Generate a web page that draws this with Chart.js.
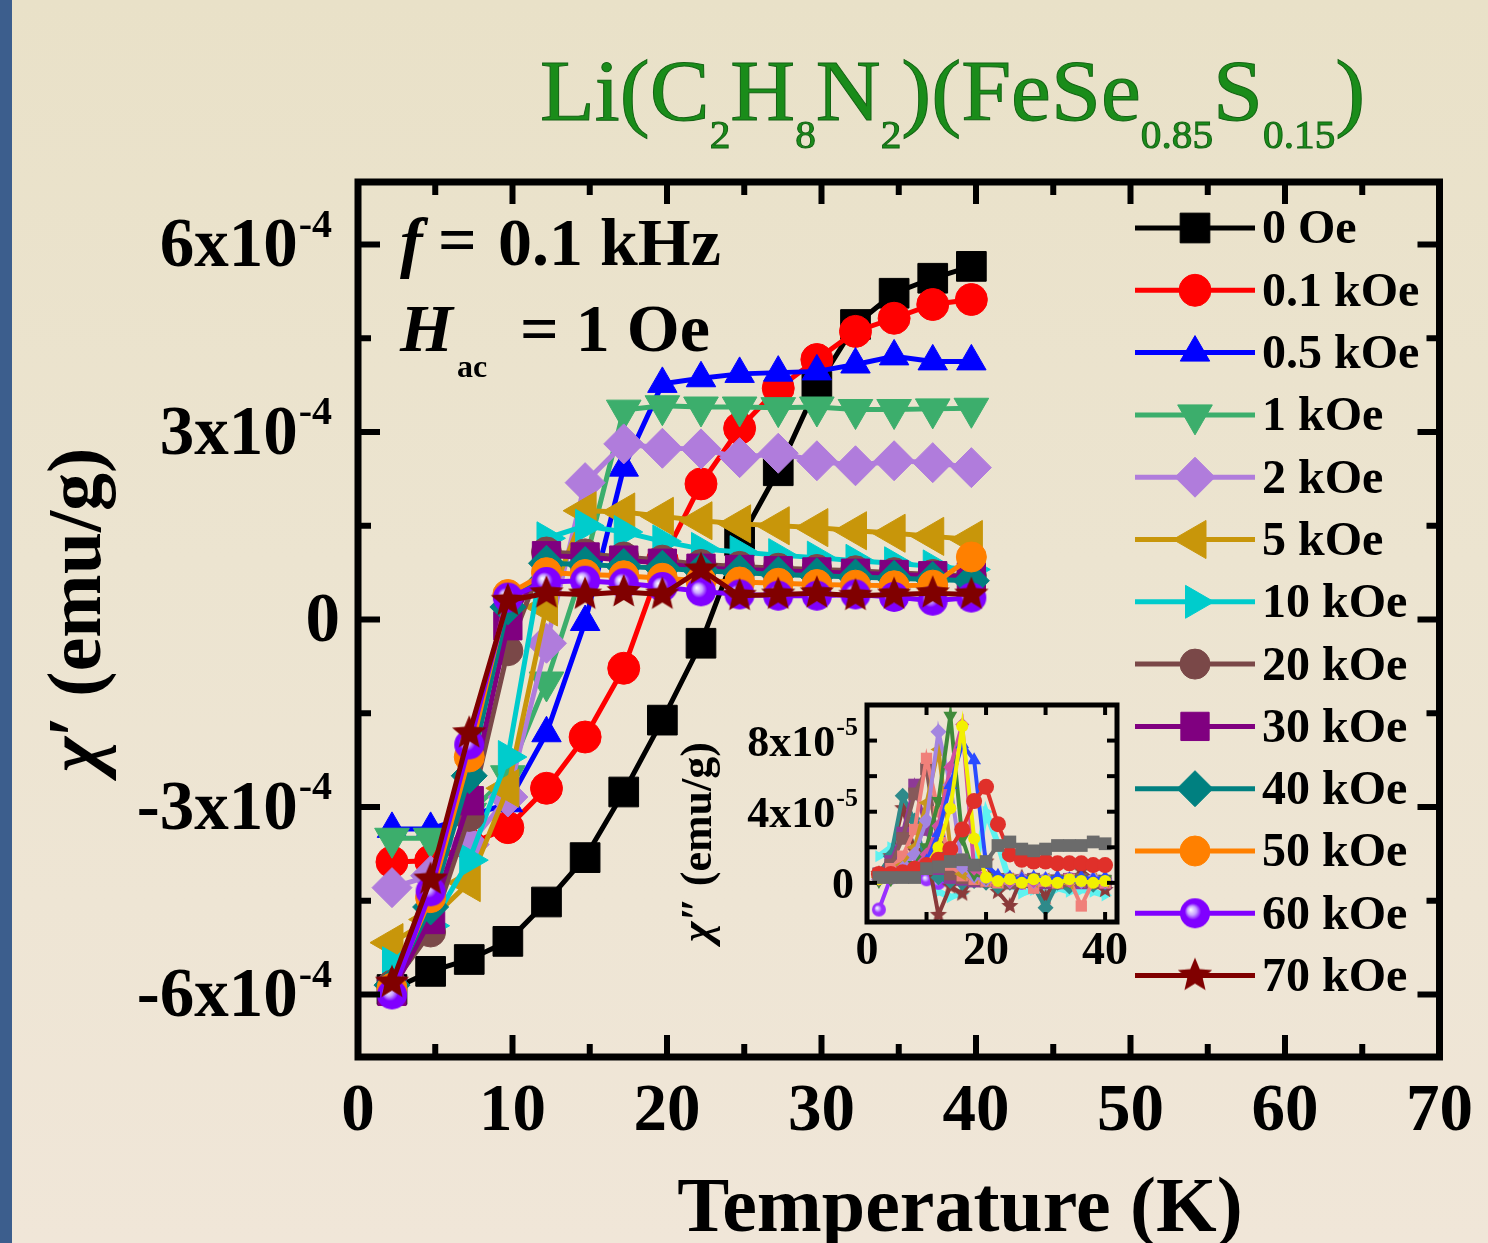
<!DOCTYPE html>
<html>
<head>
<meta charset="utf-8">
<script src="https://cdn.jsdelivr.net/npm/chart.js@4.4.1/dist/chart.umd.min.js"></script>
<style>
  html, body { margin: 0; padding: 0; }
  body {
    width: 1488px; height: 1243px; overflow: hidden; position: relative;
    background: linear-gradient(180deg, #e9e1c8 0%, #ece4d0 45%, #f0e6d8 100%);
    font-family: "Liberation Serif", "Times New Roman", serif;
  }
  #strip { position: absolute; left: 0; top: 0; width: 12px; height: 1243px; background: #3c5e8d; }
  #main { position: absolute; left: 0; top: 0; }
  #inset { position: absolute; left: 640px; top: 690px; }
  #title {
    position: absolute; left: 540px; top: 48px; color: #1a8c1a;
    -webkit-text-stroke: 1px #146414;
    font-size: 86px; line-height: 1; white-space: nowrap; transform-origin: 0 0;
  }
  #title sub { font-size: 46%; vertical-align: baseline; position: relative; top: 0.7em; }
</style>
</head>
<body>
<div id="strip"></div>
<canvas id="main" width="1488" height="1243"></canvas>
<canvas id="inset" width="500" height="300"></canvas>
<div id="title">Li(C<sub>2</sub>H<sub>8</sub>N<sub>2</sub>)(FeSe<sub>0.85</sub>S<sub>0.15</sub>)</div>

<script>
const SERIF = '"Liberation Serif", "Times New Roman", serif';

// temperature points (K) of the main chi' curves
const temps = [2.2, 4.7, 7.2, 9.7, 12.2, 14.7, 17.2, 19.7, 22.2, 24.7, 27.2, 29.7, 32.2, 34.7, 37.2, 39.7];

// chi' in units of 1e-4 emu/g, one list per dc field
const chi0Oe   = [-5.92, -5.63, -5.44, -5.15, -4.52, -3.81, -2.76, -1.61, -0.38, 1.26, 2.38, 3.73, 4.72, 5.22, 5.46, 5.65];
const chi01kOe = [-3.88, -3.86, -3.60, -3.33, -2.70, -1.88, -0.78, 0.94, 2.17, 3.06, 3.70, 4.16, 4.61, 4.82, 5.04, 5.12];
const chi05kOe = [-3.35, -3.35, -3.15, -2.94, -1.82, -0.04, 2.43, 3.77, 3.86, 3.93, 3.95, 3.97, 4.08, 4.21, 4.13, 4.13];
const chi1kOe  = [-3.50, -3.50, -3.10, -2.50, -1.00, 0.90, 3.35, 3.42, 3.40, 3.40, 3.39, 3.40, 3.36, 3.36, 3.37, 3.38];
const chi2kOe  = [-4.29, -4.10, -3.60, -2.84, -0.38, 2.19, 2.81, 2.74, 2.73, 2.59, 2.66, 2.54, 2.46, 2.54, 2.51, 2.43];
const chi5kOe  = [-5.17, -4.80, -4.21, -2.70, 0.20, 1.74, 1.72, 1.65, 1.58, 1.53, 1.50, 1.47, 1.42, 1.38, 1.33, 1.28];
const chi10kOe = [-5.50, -4.90, -3.85, -2.20, 1.30, 1.50, 1.40, 1.25, 1.13, 1.08, 1.03, 0.99, 0.94, 0.90, 0.85, 0.80];
const chi20kOe = [-5.85, -5.00, -3.15, -0.50, 1.08, 1.05, 1.00, 0.95, 0.88, 0.85, 0.82, 0.80, 0.78, 0.75, 0.72, 0.70];
const chi30kOe = [-5.95, -4.80, -2.90, -0.10, 1.02, 1.00, 0.95, 0.90, 0.82, 0.80, 0.78, 0.76, 0.74, 0.72, 0.70, 0.68];
const chi40kOe = [-5.85, -4.60, -2.50, 0.20, 0.90, 0.88, 0.85, 0.82, 0.78, 0.75, 0.72, 0.70, 0.68, 0.66, 0.64, 0.62];
const chi50kOe = [-5.90, -4.45, -2.20, 0.40, 0.75, 0.72, 0.70, 0.66, 0.62, 0.60, 0.58, 0.56, 0.55, 0.54, 0.55, 1.00];
const chi60kOe = [-6.00, -4.35, -2.00, 0.35, 0.60, 0.62, 0.58, 0.52, 0.45, 0.40, 0.38, 0.38, 0.40, 0.36, 0.30, 0.35];
const chi70kOe = [-5.81, -4.16, -1.82, 0.30, 0.42, 0.40, 0.44, 0.40, 0.80, 0.38, 0.40, 0.42, 0.38, 0.40, 0.42, 0.40];

const fieldLabels = ['0 Oe', '0.1 kOe', '0.5 kOe', '1 kOe', '2 kOe', '5 kOe', '10 kOe',
                     '20 kOe', '30 kOe', '40 kOe', '50 kOe', '60 kOe', '70 kOe'];

// axis ticks of the main panel
const xTicks = [0, 10, 20, 30, 40, 50, 60, 70];
const xMinorTicks = [5, 15, 25, 35, 45, 55, 65];
const yTicks = [-6, -3, 0, 3, 6];
const yMinorTicks = [-4.5, -1.5, 1.5, 4.5];

// inset: chi'' in units of 1e-5 emu/g
const insetTemps = [2, 4, 6, 8, 10, 12, 14, 16, 18, 20, 22, 24, 26, 28, 30, 32, 34, 36, 38, 40];
const insetCyan    = [1.5, 2.0, 2.6, 2.2, 0.5, -0.5, -0.8, -0.6, 0.6, 4.0, 2.2, 0.0, -0.6, -0.4, -0.6, -0.3, -0.5, -0.4, -0.5, -0.7];
const insetViolet  = [-1.5, 0.3, 0.8, 0.5, 0.2, 0.0, 0.2, 0.4, 0.3, 0.2, 0.1, 0.2, 0.0, 0.2, 0.1, 0.0, 0.2, 0.1, 0.0, 0.1];
const insetStar    = [0.5, 1.5, 4.2, 1.8, 1.8, -1.8, -0.2, -0.6, 0.3, 1.2, -0.5, -1.3, 0.3, 0.2, -0.8, 0.3, 0.0, 0.7, 0.2, -0.4];
const insetTeal    = [0.5, 1.5, 4.9, 3.5, 1.0, 0.3, 0.1, 0.0, 0.1, 0.0, -0.2, 0.0, 0.1, -0.2, -1.4, 0.0, -0.2, 0.1, -0.1, 0.0];
const insetPurple  = [0.5, 1.2, 2.8, 5.5, 3.0, 0.8, 0.3, 0.2, 0.1, 0.2, 0.1, 0.0, 0.1, 0.2, 0.0, 0.1, 0.2, 0.0, 0.1, 0.0];
const insetBrown   = [0.5, 1.0, 2.5, 5.0, 6.4, 2.0, 0.5, 0.3, 0.2, 0.1, 0.2, 0.0, 0.1, 0.2, 0.1, 0.0, 0.1, 0.2, 0.0, 0.1];
const insetSalmon  = [0.4, 0.8, 1.5, 3.0, 7.0, 4.0, 1.0, 0.4, 0.2, 0.1, 0.0, 0.2, 0.1, -0.3, 0.1, 0.0, 0.2, -1.3, 0.1, 0.0];
const insetGold    = [0.3, 0.5, 1.0, 2.0, 4.5, 7.5, 2.0, 0.5, 0.3, 0.2, 0.1, 0.2, 0.0, 0.1, 0.2, 0.1, 0.0, 0.1, 0.2, 0.1];
const insetLavender= [0.2, 0.4, 0.8, 1.6, 3.5, 8.5, 5.5, 0.9, 0.4, 0.2, 0.2, 0.1, 0.2, 0.1, 0.2, 0.1, 0.2, 0.1, 0.2, 0.1];
const insetGreen   = [0.1, 0.2, 0.5, 1.0, 2.0, 4.6, 9.4, 2.5, 0.5, 0.3, 0.2, 0.2, 0.1, 0.2, 0.1, 0.2, 0.1, 0.2, 0.1, 0.2];
const insetMagenta = [0.2, 0.3, 0.5, 0.9, 1.6, 3.2, 6.5, 8.9, 0.8, 0.3, 0.2, 0.1, 0.2, 0.1, 0.1, 0.2, 0.1, 0.2, 0.1, 0.1];
const insetBlue    = [0.2, 0.3, 0.4, 0.7, 1.2, 2.8, 5.5, 7.8, 6.9, 1.0, 0.4, 0.3, 0.2, 0.3, 0.2, 0.3, 0.2, 0.3, 0.2, 0.3];
const insetYellow  = [0.2, 0.3, 0.4, 0.6, 1.0, 2.0, 4.2, 8.8, 2.5, 0.3, 0.1, 0.2, 0.0, 0.2, 0.1, 0.0, 0.2, 0.1, 0.0, 0.1];
const insetRed     = [0.5, 0.5, 0.6, 0.8, 1.0, 1.3, 1.9, 3.0, 4.6, 5.4, 3.3, 1.6, 1.3, 1.2, 1.2, 1.1, 1.1, 1.1, 1.0, 1.0];
const insetGray    = [0.3, 0.3, 0.3, 0.3, 0.8, 0.9, 1.2, 1.3, 1.0, 1.2, 2.1, 2.3, 1.9, 1.8, 1.9, 2.1, 2.1, 2.1, 2.3, 2.2];

const insetXTicks = [0, 20, 40];
const insetXMinor = [10, 30];
const insetYTicks = [0, 4, 8];
const insetYMinor = [2, 6];

// ---- marker images for styles Chart.js does not have ----
function makeStar(r, color) {
  const s = Math.ceil(r * 2 + 2);
  const c = document.createElement('canvas');
  c.width = s; c.height = s;
  const g = c.getContext('2d');
  g.fillStyle = color;
  g.beginPath();
  for (let k = 0; k < 10; k++) {
    const rr = k % 2 ? r * 0.45 : r;
    const ang = -Math.PI / 2 + k * Math.PI / 5;
    g.lineTo(s / 2 + rr * Math.cos(ang), s / 2 + rr * Math.sin(ang));
  }
  g.closePath();
  g.fill();
  return c;
}

function makeSphere(r, color) {
  const s = Math.ceil(r * 2 + 2);
  const c = document.createElement('canvas');
  c.width = s; c.height = s;
  const g = c.getContext('2d');
  const grad = g.createRadialGradient(s / 2 - r * 0.3, s / 2 - r * 0.25, 0, s / 2, s / 2, r);
  grad.addColorStop(0, '#ffffff');
  grad.addColorStop(0.3, '#c7a2ff');
  grad.addColorStop(0.55, color);
  grad.addColorStop(1, color);
  g.fillStyle = grad;
  g.beginPath();
  g.arc(s / 2, s / 2, r, 0, Math.PI * 2);
  g.fill();
  return c;
}

// ---- main panel styling ----
const mainValues = [chi0Oe, chi01kOe, chi05kOe, chi1kOe, chi2kOe, chi5kOe, chi10kOe,
                    chi20kOe, chi30kOe, chi40kOe, chi50kOe, chi60kOe, chi70kOe];
const mainColors = ['#000000', '#ff0000', '#0000ff', '#3cae6c', '#b07cdc', '#c8960a', '#00cccc',
                    '#7a4848', '#800080', '#008080', '#ff8000', '#8000ff', '#800000'];
const mainMarkers = [
  { style: 'rect', r: 21 },
  { style: 'circle', r: 16 },
  { style: 'triangle', r: 17 },
  { style: 'triangle', r: 20, rot: 180 },
  { style: 'rectRot', r: 20 },
  { style: 'triangle', r: 22, rot: -90 },
  { style: 'triangle', r: 19, rot: 90 },
  { style: 'circle', r: 15 },
  { style: 'rect', r: 20 },
  { style: 'rectRot', r: 18 },
  { style: 'circle', r: 15 },
  { style: makeSphere(15, '#8000ff'), r: 15 },
  { style: makeStar(18, '#800000'), r: 17 }
];

const mainDatasets = mainValues.map((vals, i) => ({
  label: fieldLabels[i],
  data: temps.map((t, k) => ({ x: t, y: vals[k] })),
  borderColor: mainColors[i],
  backgroundColor: mainColors[i],
  pointBorderColor: mainColors[i],
  borderWidth: 5,
  pointRadius: mainMarkers[i].r,
  pointStyle: mainMarkers[i].style,
  pointRotation: mainMarkers[i].rot || 0,
  pointBorderWidth: 1,
  tension: 0,
  order: mainValues.length - i
}));

// frame, inward ticks, y labels with exponent, axis titles
const framePlugin = {
  id: 'framePlugin',
  afterDatasetsDraw(chart, args, o) {
    const ctx = chart.ctx;
    const a = chart.chartArea;
    const xs = chart.scales.x, ys = chart.scales.y;
    ctx.save();
    ctx.strokeStyle = '#000';
    ctx.lineWidth = o.tickW;
    const seg = (x1, y1, x2, y2) => { ctx.beginPath(); ctx.moveTo(x1, y1); ctx.lineTo(x2, y2); ctx.stroke(); };
    o.xMajor.forEach(v => { const p = xs.getPixelForValue(v); seg(p, a.bottom, p, a.bottom - o.major); seg(p, a.top, p, a.top + o.major); });
    o.xMinor.forEach(v => { const p = xs.getPixelForValue(v); seg(p, a.bottom, p, a.bottom - o.minor); seg(p, a.top, p, a.top + o.minor); });
    o.yMajor.forEach(v => { const p = ys.getPixelForValue(v); seg(a.left, p, a.left + o.major, p); seg(a.right, p, a.right - o.major, p); });
    o.yMinor.forEach(v => { const p = ys.getPixelForValue(v); seg(a.left, p, a.left + o.minor, p); seg(a.right, p, a.right - o.minor, p); });
    ctx.lineWidth = o.frameW;
    ctx.strokeRect(a.left, a.top, a.right - a.left, a.bottom - a.top);

    // y tick labels like 6x10^-4
    ctx.fillStyle = '#000';
    ctx.textBaseline = 'middle';
    ctx.textAlign = 'right';
    o.yMajor.forEach(v => {
      const p = ys.getPixelForValue(v);
      if (v === 0) {
        ctx.font = 'bold ' + o.labelSize + 'px ' + SERIF;
        ctx.fillText('0', o.labelRight + o.zeroShift, p + o.baseDy);
        return;
      }
      ctx.font = 'bold ' + o.supSize + 'px ' + SERIF;
      const sw = ctx.measureText(o.exp).width;
      ctx.fillText(o.exp, o.labelRight, p + o.supDy);
      ctx.font = 'bold ' + o.labelSize + 'px ' + SERIF;
      ctx.fillText(v + 'x10', o.labelRight - sw - 1, p + o.baseDy);
    });

    // rotated y title: chi with primes, then unit
    ctx.save();
    ctx.translate(o.yTitleX, o.yTitleY);
    ctx.rotate(-Math.PI / 2);
    ctx.textAlign = 'left';
    const chiFont = 'italic bold ' + o.yTitleSize + 'px ' + SERIF;
    const restFont = 'bold ' + o.yTitleSize + 'px ' + SERIF;
    ctx.font = chiFont;
    const w1 = ctx.measureText('\u03C7').width;
    ctx.font = restFont;
    const rest = o.primes + ' (emu/g)';
    const w2 = ctx.measureText(rest).width;
    const x0 = -(w1 + w2) / 2;
    ctx.font = chiFont;
    ctx.fillText('\u03C7', x0, 0);
    ctx.font = restFont;
    ctx.fillText(rest, x0 + w1, 0);
    ctx.restore();

    if (o.xTitle) {
      ctx.textAlign = 'center';
      ctx.textBaseline = 'alphabetic';
      ctx.font = 'bold ' + o.xTitleSize + 'px ' + SERIF;
      ctx.fillText(o.xTitle, o.xTitleX, o.xTitleY);
    }
    ctx.restore();
  }
};

// field legend and the measurement notes inside the main frame
const notesPlugin = {
  id: 'notesPlugin',
  afterDraw(chart, args, o) {
    const ctx = chart.ctx;
    ctx.save();
    chart.data.datasets.forEach((ds, i) => {
      const y = o.top + i * o.step;
      ctx.strokeStyle = ds.borderColor;
      ctx.lineWidth = 5;
      ctx.beginPath(); ctx.moveTo(o.x1, y); ctx.lineTo(o.x2, y); ctx.stroke();
      ctx.fillStyle = ds.backgroundColor;
      ctx.strokeStyle = ds.backgroundColor;
      ctx.lineWidth = 1;
      Chart.helpers.drawPoint(ctx, {
        pointStyle: ds.pointStyle, rotation: ds.pointRotation, radius: ds.pointRadius, borderWidth: 1
      }, (o.x1 + o.x2) / 2, y);
      ctx.fillStyle = '#000';
      ctx.font = 'bold ' + o.size + 'px ' + SERIF;
      ctx.textAlign = 'left';
      ctx.textBaseline = 'middle';
      ctx.fillText(ds.label, o.textX, y + 3);
    });

    ctx.fillStyle = '#000';
    ctx.textBaseline = 'alphabetic';
    ctx.textAlign = 'left';
    ctx.font = 'italic bold 68px ' + SERIF;
    ctx.fillText('f', 400, 265);
    ctx.font = 'bold 68px ' + SERIF;
    ctx.fillText('=', 438, 262);
    ctx.fillText('0.1 kHz', 498, 265);
    ctx.font = 'italic bold 68px ' + SERIF;
    ctx.fillText('H', 400, 351);
    ctx.font = 'bold 32px ' + SERIF;
    ctx.fillText('ac', 457, 377);
    ctx.font = 'bold 68px ' + SERIF;
    ctx.fillText('= 1 Oe', 520, 351);
    ctx.restore();
  }
};

new Chart(document.getElementById('main').getContext('2d'), {
  type: 'line',
  data: { datasets: mainDatasets },
  options: {
    responsive: false,
    animation: false,
    events: [],
    layout: { padding: { top: 182, right: 38, left: 0, bottom: 0 } },
    plugins: {
      legend: { display: false },
      tooltip: { enabled: false },
      framePlugin: {
        tickW: 6, frameW: 7, major: 22, minor: 13,
        xMajor: xTicks, xMinor: xMinorTicks, yMajor: yTicks, yMinor: yMinorTicks,
        labelSize: 69, supSize: 40, exp: '-4', labelRight: 332, zeroShift: 8, baseDy: 4, supDy: -18,
        yTitleX: 80, yTitleY: 610, yTitleSize: 76, primes: '\u2032',
        xTitle: 'Temperature (K)', xTitleSize: 78, xTitleX: 960, xTitleY: 1231
      },
      notesPlugin: { top: 228, step: 62.3, x1: 1135, x2: 1255, textX: 1262, size: 48 }
    },
    scales: {
      x: {
        type: 'linear', min: 0, max: 70,
        afterBuildTicks: s => { s.ticks = xTicks.map(v => ({ value: v })); },
        afterFit: s => { s.height = 186; },
        grid: { display: false, drawTicks: false },
        border: { display: false },
        ticks: { color: '#000', padding: 15, font: { family: SERIF, size: 67, weight: 'bold' } }
      },
      y: {
        type: 'linear', min: -7, max: 7,
        afterBuildTicks: s => { s.ticks = yTicks.map(v => ({ value: v })); },
        afterFit: s => { s.width = 358; },
        grid: { display: false, drawTicks: false },
        border: { display: false },
        ticks: { display: false }
      }
    }
  },
  plugins: [framePlugin, notesPlugin]
});

// ---- inset (chi'') ----
const insetValues = [insetCyan, insetViolet, insetStar, insetTeal, insetPurple, insetBrown, insetSalmon,
                     insetGold, insetLavender, insetGreen, insetMagenta, insetBlue, insetYellow, insetRed, insetGray];
const insetColors = ['#5ff2f0', '#9a30ff', '#8a3a3a', '#2e8a8a', '#8e3a96', '#86595a', '#f0807a',
                     '#c8961e', '#a385e0', '#3f8a3a', '#d050a0', '#2a4aff', '#f2f000', '#e0302a', '#6b6b6b'];
const insetMarkers = [
  { style: 'triangle', r: 7, rot: 90 },
  { style: makeSphere(7, '#9a30ff'), r: 7 },
  { style: makeStar(9, '#8a3a3a'), r: 8 },
  { style: 'rectRot', r: 8 },
  { style: 'rect', r: 9 },
  { style: 'rect', r: 9 },
  { style: 'rect', r: 8 },
  { style: 'triangle', r: 8, rot: -90 },
  { style: 'rectRot', r: 8 },
  { style: 'triangle', r: 8, rot: 180 },
  { style: 'rectRot', r: 7 },
  { style: 'triangle', r: 8 },
  { style: 'circle', r: 6 },
  { style: 'circle', r: 8 },
  { style: 'rect', r: 9 }
];

const insetDatasets = insetValues.map((vals, i) => ({
  data: insetTemps.map((t, k) => ({ x: t, y: vals[k] })),
  borderColor: insetColors[i],
  backgroundColor: insetColors[i],
  pointBorderColor: insetColors[i],
  borderWidth: i === 0 ? 6 : 4,
  pointRadius: insetMarkers[i].r,
  pointStyle: insetMarkers[i].style,
  pointRotation: insetMarkers[i].rot || 0,
  pointBorderWidth: 0,
  tension: 0,
  order: insetValues.length - i
}));

new Chart(document.getElementById('inset').getContext('2d'), {
  type: 'line',
  data: { datasets: insetDatasets },
  options: {
    responsive: false,
    animation: false,
    events: [],
    layout: { padding: { top: 15, right: 23, left: 0, bottom: 0 } },
    plugins: {
      legend: { display: false },
      tooltip: { enabled: false },
      framePlugin: {
        tickW: 4, frameW: 5, major: 10, minor: 10,
        xMajor: [20, 40], xMinor: insetXMinor, yMajor: insetYTicks, yMinor: insetYMinor,
        labelSize: 44, supSize: 26, exp: '-5', labelRight: 218, zeroShift: -4, baseDy: 4, supDy: -12,
        yTitleX: 60, yTitleY: 152, yTitleSize: 44, primes: '\u2033'
      }
    },
    scales: {
      x: {
        type: 'linear', min: 0, max: 42,
        afterBuildTicks: s => { s.ticks = insetXTicks.map(v => ({ value: v })); },
        afterFit: s => { s.height = 68; },
        grid: { display: false, drawTicks: false },
        border: { display: false },
        ticks: { color: '#000', padding: 3, font: { family: SERIF, size: 46, weight: 'bold' } }
      },
      y: {
        type: 'linear', min: -2.2, max: 10,
        afterBuildTicks: s => { s.ticks = insetYTicks.map(v => ({ value: v })); },
        afterFit: s => { s.width = 227; },
        grid: { display: false, drawTicks: false },
        border: { display: false },
        ticks: { display: false }
      }
    }
  },
  plugins: [framePlugin]
});

// squeeze the formula title to the width it has in the figure
const title = document.getElementById('title');
title.style.transform = 'scaleX(' + (825 / title.scrollWidth) + ')';
</script>
</body>
</html>
